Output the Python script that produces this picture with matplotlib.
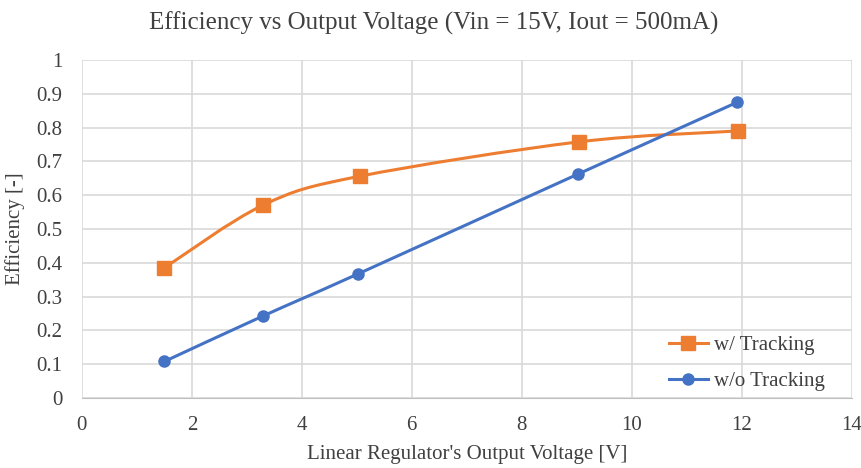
import numpy as np
import matplotlib.pyplot as plt
from matplotlib.path import Path
from matplotlib.patches import PathPatch
from matplotlib.lines import Line2D

plt.rcParams['font.family'] = ['Liberation Serif', 'DejaVu Serif']

# data
vout = [1.5, 3.3, 5.05, 9.05, 11.93]
eff_tracking = [0.385, 0.571, 0.656, 0.758, 0.790]
vout_nt = [1.5, 3.3, 5.02, 9.03, 11.92]
eff_no_tracking = [0.108, 0.243, 0.367, 0.663, 0.875]

orange = '#ED7D31'
blue = '#4472C4'


def smooth_path(x, y):
    # excel style smoothed line (cubic bezier through the points)
    p = np.column_stack([x, y])
    n = len(p)
    verts = [p[0]]
    codes = [Path.MOVETO]
    for i in range(n - 1):
        p0 = p[i - 1] if i > 0 else p[i]
        p1 = p[i]
        p2 = p[i + 1]
        p3 = p[i + 2] if i + 2 < n else p[i + 1]
        c1 = p1 + (p2 - p0) / 6.0
        c2 = p2 - (p3 - p1) / 6.0
        verts += [c1, c2, p2]
        codes += [Path.CURVE4] * 3
    return Path(verts, codes)


fig = plt.figure(figsize=(8.62, 4.68), dpi=100)
ax = fig.add_axes([0.095, 0.1496, 0.893, 0.7222])

ax.add_patch(PathPatch(smooth_path(vout, eff_tracking), fc='none', ec=orange, lw=2.2, zorder=3))
ax.add_patch(PathPatch(smooth_path(vout_nt, eff_no_tracking), fc='none', ec=blue, lw=2.2, zorder=3))
ax.plot(vout, eff_tracking, ls='none', marker='s', ms=10, color=orange, zorder=4)
ax.plot(vout_nt, eff_no_tracking, ls='none', marker='o', ms=8, color=blue, zorder=4)

ax.set_xlim(0, 14)
ax.set_ylim(0, 1)
ax.set_xticks(range(0, 15, 2))
ax.set_yticks(np.arange(0, 1.01, 0.1))
ax.set_yticklabels(['0', '0.1', '0.2', '0.3', '0.4', '0.5', '0.6', '0.7', '0.8', '0.9', '1'])
ax.grid(True, color='#d9d9d9', lw=1.2)
ax.set_axisbelow(True)
for s in ['top', 'right', 'left']:
    ax.spines[s].set_visible(False)
ax.spines['bottom'].set_color('#bfbfbf')
ax.tick_params(axis='y', length=0, labelsize=15, colors='#404040', pad=14)
ax.tick_params(axis='x', length=0, labelsize=15, colors='#404040', pad=13)

fig.suptitle('Efficiency vs Output Voltage (Vin = 15V, Iout = 500mA)', x=0.503, y=0.975,
             va='top', fontsize=18, color='#404040')
ax.set_xlabel("Linear Regulator's Output Voltage [V]", fontsize=15, color='#404040', labelpad=7)
ax.set_ylabel('Efficiency [-]', fontsize=15, color='#404040', labelpad=8)

handles = [Line2D([], [], color=orange, lw=2.2, marker='s', ms=10),
           Line2D([], [], color=blue, lw=2.2, marker='o', ms=8)]
ax.legend(handles, ['w/ Tracking', 'w/o Tracking'], loc='lower right', bbox_to_anchor=(0.99, -0.035),
          frameon=False, fontsize=15, labelcolor='#404040', handlelength=1.9, handletextpad=0.3,
          labelspacing=0.8)

fig.savefig('out.png', dpi=100)
